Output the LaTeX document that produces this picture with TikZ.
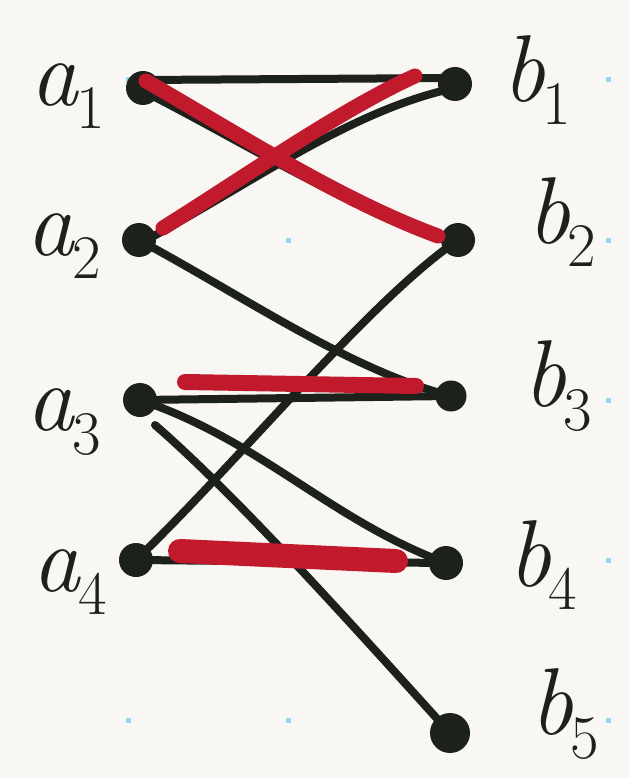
\documentclass[tikz,border=0pt]{standalone}
\definecolor{ink}{HTML}{1D211C}
\definecolor{pen}{HTML}{C01A2C}
\definecolor{paper}{HTML}{F8F7F4}
\definecolor{griddot}{HTML}{9AD3EE}
\newcommand{\vlab}[2]{\textit{#1}\kern-0.03em\raisebox{-0.25em}{\fontsize{62}{62}\selectfont #2}}
\tikzset{
  vtx/.style={circle, fill=ink, inner sep=0pt, minimum size=34pt},
  edge/.style={draw=ink, line width=8pt, line cap=round},
  match/.style={draw=pen, line width=15pt, line cap=round},
  lbl/.style={text=ink, inner sep=0pt, font=\fontsize{95}{95}\selectfont}
}
\begin{document}
\begin{tikzpicture}[x=1pt,y=-1pt]
\fill[paper] (0,0) rectangle (630,778);
\useasboundingbox (0,0) rectangle (630,778);
\foreach \x in {128,288,448,608}
  \foreach \y in {80,240,400,560,720}
    \fill[griddot] (\x-2.5,\y-2.5) rectangle (\x+2.5,\y+2.5);
% vertices
\node[vtx] (a1) at (143,88) {};
\node[vtx] (a2) at (139,240) {};
\node[vtx] (a3) at (140,400) {};
\node[vtx] (a4) at (136,560) {};
\node[vtx] (b1) at (455,84) {};
\node[vtx] (b2) at (458,240) {};
\node[vtx, minimum size=31pt] (b3) at (451,396) {};
\node[vtx] (b4) at (446,563) {};
\node[vtx, minimum size=40pt] (b5) at (450,733) {};
\coordinate (a3s) at ([xshift=15pt,yshift=-25pt]a3.center);
% labels
\node[lbl] (la1) at (68,96) {\vlab{a}{1}};
\node[lbl] (la2) at (64,246) {\vlab{a}{2}};
\node[lbl] (la3) at (64,422) {\vlab{a}{3}};
\node[lbl] (la4) at (70,582) {\vlab{a}{4}};
\node[lbl] (lb1) at (537,80) {\vlab{b}{1}};
\node[lbl] (lb2) at (562,222) {\vlab{b}{2}};
\node[lbl] (lb3) at (558,386) {\vlab{b}{3}};
\node[lbl] (lb4) at (543,565) {\vlab{b}{4}};
\node[lbl] (lb5) at (565,714) {\vlab{b}{5}};
% black edges
\draw[edge] ([yshift=8pt]a1.center) -- ([yshift=6pt]b1.center);
\draw[edge] ([yshift=-3pt]a1.center) .. controls (240,140) and (350,210) .. ([yshift=-3pt]b2.center);
\draw[edge] ([yshift=-4pt]a2.center) .. controls (250,185) and (350,110) .. ([yshift=-4pt]b1.center);
\draw[edge] (a2.center) .. controls (250,300) and (350,370) .. (b3.center);
\draw[edge] (a4.center) .. controls (240,460) and (370,300) .. (b2.center);
\draw[edge] (a3.center) -- (b3.center);
\draw[edge] (a3.center) .. controls (260,440) and (330,520) .. (b4.center);
\draw[edge] (a3s) .. controls (230,490) and (330,600) .. (b5.center);
\draw[edge] (a4.center) -- (b4.center);
% red matching
\draw[match] ([xshift=3pt,yshift=7pt]a1.center) .. controls (240,135) and (340,200) .. ([xshift=-20pt,yshift=4pt]b2.center);
\draw[match] ([xshift=24pt,yshift=12pt]a2.center) .. controls (240,180) and (340,110) .. ([xshift=-40pt,yshift=8pt]b1.center);
\draw[match, line width=16pt] ([xshift=45pt,yshift=18pt]a3.center) -- ([xshift=-35pt,yshift=10pt]b3.center);
\draw[match, line width=24pt] ([xshift=44pt,yshift=9pt]a4.center) -- ([xshift=-50pt,yshift=2pt]b4.center);
\end{tikzpicture}
\end{document}
